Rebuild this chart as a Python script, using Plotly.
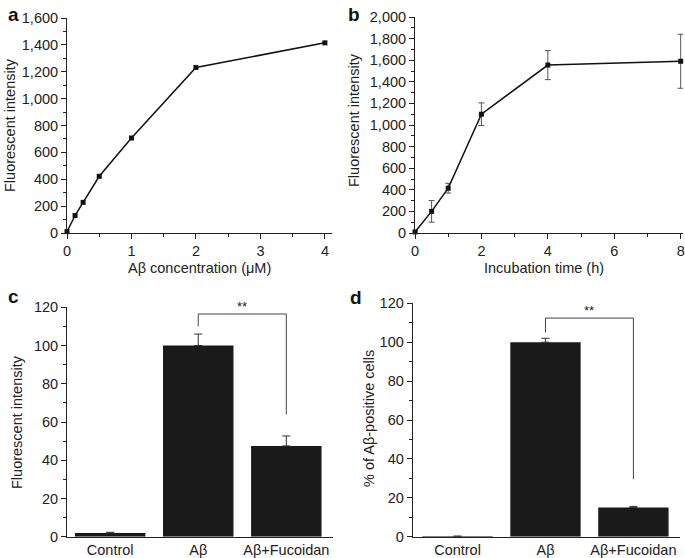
import plotly.graph_objects as go

# ---- data ----
a_conc = [0, 0.125, 0.25, 0.5, 1, 2, 4]
a_fluor = [10, 130, 228, 422, 707, 1232, 1415]

b_time = [0, 0.5, 1, 2, 4, 8]
b_fluor = [10, 200, 415, 1100, 1555, 1590]
b_err = [10, 100, 45, 105, 135, 250]

groups = ["Control", "Aβ", "Aβ+Fucoidan"]
c_vals = [2, 100, 47.5]
c_err = [0.3, 6, 5.2]
d_vals = [0.2, 100, 15]
d_err = [0.1, 2, 0.6]

c_bracket_y = [110, 116.5, 64]
d_bracket_y = [105, 112.4, 29.5]

FONT = "Liberation Sans, Arial, sans-serif"
TXT = "#222222"
W, H = 685, 558

fig = go.Figure()

# panel a
fig.add_trace(go.Scatter(x=a_conc, y=a_fluor, mode="lines+markers",
                         line=dict(color="#111", width=1.5),
                         marker=dict(symbol="square", size=5, color="#111"),
                         cliponaxis=False, xaxis="x", yaxis="y", showlegend=False))
# panel b
fig.add_trace(go.Scatter(x=b_time, y=b_fluor, mode="lines+markers",
                         line=dict(color="#111", width=1.5),
                         marker=dict(symbol="square", size=5, color="#111"),
                         error_y=dict(type="data", array=b_err, color="#555", thickness=1, width=3),
                         cliponaxis=False, xaxis="x2", yaxis="y2", showlegend=False))
# panel c
xpos = [0, 1, 2]
fig.add_trace(go.Bar(x=xpos, y=c_vals, width=0.8, marker=dict(color="#1a1a1a", line=dict(width=0)),
                     error_y=dict(type="data", array=c_err, symmetric=False, arrayminus=[0, 0, 0],
                                  color="#333", thickness=1, width=4),
                     xaxis="x3", yaxis="y3", showlegend=False))
# panel d
fig.add_trace(go.Bar(x=xpos, y=d_vals, width=0.8, marker=dict(color="#1a1a1a", line=dict(width=0)),
                     error_y=dict(type="data", array=d_err, symmetric=False, arrayminus=[0, 0, 0],
                                  color="#333", thickness=1, width=4),
                     xaxis="x4", yaxis="y4", showlegend=False))

# brackets
for xa, ya, by in (("x3", "y3", c_bracket_y), ("x4", "y4", d_bracket_y)):
    fig.add_shape(type="path",
                  path=f"M 1,{by[0]} L 1,{by[1]} L 2,{by[1]} L 2,{by[2]}",
                  xref=xa, yref=ya, line=dict(color="#444", width=1))
    fig.add_annotation(x=1.5, y=by[1], xref=xa, yref=ya, text="**", showarrow=False,
                       yanchor="bottom", yshift=-2, font=dict(size=13, color=TXT, family=FONT))


def px_x(p):
    return p / W


def px_y(p):
    return 1 - p / H


axcommon = dict(showline=True, linecolor="#222", linewidth=1, ticks="outside", ticklen=5,
                tickwidth=1, tickcolor="#222", showgrid=False, zeroline=False, automargin=False,
                ticklabeloverflow="allow",
                tickfont=dict(family=FONT, size=14.5, color=TXT))

fig.update_layout(
    template="none",
    width=W, height=H, margin=dict(l=0, r=0, t=0, b=0, autoexpand=False),
    paper_bgcolor="white", plot_bgcolor="white",
    font=dict(family=FONT, color=TXT),
    xaxis=dict(domain=[px_x(67), px_x(332)], range=[0, 4.11], dtick=1, anchor="y",
               minor=dict(dtick=0.5, ticks="outside", ticklen=3, tickcolor="#222"), **axcommon),
    yaxis=dict(domain=[px_y(233), px_y(18)], range=[0, 1600], dtick=200, anchor="x",
               tickformat=",d",
               minor=dict(dtick=100, ticks="outside", ticklen=3, tickcolor="#222"), **axcommon),
    xaxis2=dict(domain=[px_x(415), px_x(683)], range=[0, 8.07], dtick=2, anchor="y2",
                minor=dict(dtick=1, ticks="outside", ticklen=3, tickcolor="#222"), **axcommon),
    yaxis2=dict(domain=[px_y(233), px_y(17)], range=[0, 2000], dtick=200, anchor="x2",
                tickformat=",d",
                minor=dict(dtick=100, ticks="outside", ticklen=3, tickcolor="#222"), **axcommon),
    xaxis3=dict(domain=[px_x(67), px_x(333)], range=[-0.49, 2.53], anchor="y3",
                tickvals=xpos, ticktext=groups, **{**axcommon, "ticks": ""}),
    yaxis3=dict(domain=[px_y(536.7), px_y(307.3)], range=[0, 120], dtick=20, anchor="x3",
                minor=dict(dtick=10, ticks="outside", ticklen=3, tickcolor="#222"), **axcommon),
    xaxis4=dict(domain=[px_x(412.7), px_x(680)], range=[-0.51, 2.53], anchor="y4",
                tickvals=xpos, ticktext=groups, **{**axcommon, "ticks": ""}),
    yaxis4=dict(domain=[px_y(536.7), px_y(303.3)], range=[0, 120], dtick=20, anchor="x4",
                minor=dict(dtick=10, ticks="outside", ticklen=3, tickcolor="#222"), **axcommon),
)

# panel letters
for letter, x, y in (("a", 13, 15), ("b", 354, 14), ("c", 13, 296), ("d", 356, 297)):
    fig.add_annotation(x=px_x(x), y=px_y(y), xref="paper", yref="paper", text=f"<b>{letter}</b>",
                       showarrow=False, xanchor="center", yanchor="middle",
                       font=dict(size=19, color="#111", family=FONT))

# axis titles
titles = [
    ("Aβ concentration (μM)", 200, 268, 0),
    ("Incubation time (h)", 544, 268, 0),
    ("Fluorescent intensity", 10, 125, -90),
    ("Fluorescent intensity", 354, 120, -90),
    ("Fluorescent intensity", 17, 422, -90),
    ("% of Aβ-positive cells", 369, 419, -90),
]
for t, x, y, ang in titles:
    fig.add_annotation(x=px_x(x), y=px_y(y), xref="paper", yref="paper", text=t, textangle=ang,
                       showarrow=False, xanchor="center", yanchor="middle",
                       font=dict(size=14.5, color=TXT, family=FONT))

fig.write_html("out.html", config={"displayModeBar": False},
               post_script="document.body.style.margin='0';")
